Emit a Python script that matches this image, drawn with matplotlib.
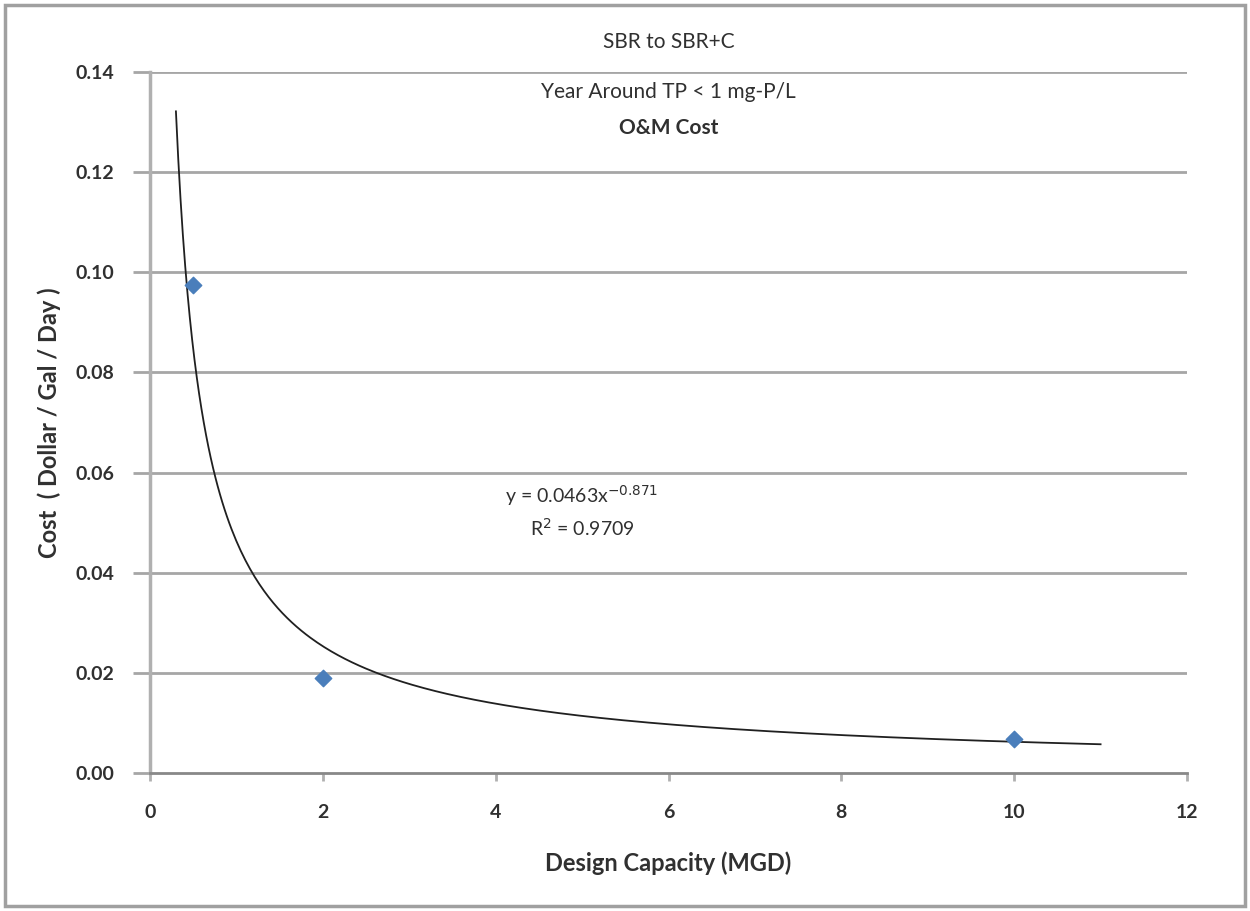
import numpy as np
import matplotlib.pyplot as plt
from matplotlib.patches import Rectangle

# data points
capacity = [0.5, 2, 10]
cost = [0.0975, 0.019, 0.0068]

# power trend line y = a * x^b
coef_a = 0.0463
coef_b = -0.871
trend_x = np.linspace(0.3, 11, 400)
trend_y = coef_a * trend_x ** coef_b

x_ticks = [0, 2, 4, 6, 8, 10, 12]
y_ticks = [0.00, 0.02, 0.04, 0.06, 0.08, 0.10, 0.12, 0.14]

plt.rcParams['font.family'] = ['Lato', 'DejaVu Sans']

fig = plt.figure(figsize=(12.5, 9.11), dpi=100)
ax = fig.add_axes([0.12, 0.1515, 0.8296, 0.7695])

for y in y_ticks[1:]:
    ax.axhline(y, color='#a6a6a6', lw=2, zorder=0)

ax.plot(trend_x, trend_y, color='#202020', lw=1.3, zorder=2)
ax.scatter(capacity, cost, s=70, marker='D', color='#4a7ebb', zorder=3)

ax.set_xlim(0, 12)
ax.set_ylim(0, 0.14)
ax.set_xticks(x_ticks)
ax.set_yticks(y_ticks)
ax.set_xticklabels([str(v) for v in x_ticks])
ax.set_yticklabels(['%.2f' % v for v in y_ticks])

for side in ['top', 'right']:
    ax.spines[side].set_visible(False)
ax.spines['left'].set_color('#b0b0b0')
ax.spines['left'].set_linewidth(2.5)
ax.spines['bottom'].set_color('#888888')
ax.spines['bottom'].set_linewidth(2)
ax.tick_params(axis='y', colors='#a6a6a6', width=2, length=12, labelcolor='#303030',
               labelsize=14, pad=14)
ax.tick_params(axis='x', colors='#b0b0b0', width=2, length=6, labelcolor='#303030',
               labelsize=14, pad=16)
for lab in ax.get_xticklabels() + ax.get_yticklabels():
    lab.set_fontweight('bold')

ax.set_xlabel('Design Capacity (MGD)', fontsize=17, fontweight='bold', color='#303030', labelpad=22)
ax.set_ylabel('Cost  ( Dollar / Gal / Day )', fontsize=17, fontweight='bold', color='#303030', labelpad=10)

fig.text(0.535, 0.954, 'SBR to SBR+C', ha='center', va='center', fontsize=15, color='#303030')
fig.text(0.535, 0.899, 'Year Around TP < 1 mg-P/L', ha='center', va='center', fontsize=15, color='#303030')
fig.text(0.535, 0.860, 'O&M Cost', ha='center', va='center', fontsize=15, fontweight='bold', color='#303030')

ax.text(5.0, 0.0555, r'y = 0.0463x$^{-0.871}$', ha='center', va='center', fontsize=14, color='#303030')
ax.text(5.0, 0.0490, r'R$^2$ = 0.9709', ha='center', va='center', fontsize=14, color='#303030')

fig.patches.append(Rectangle((0.004, 0.005), 0.992, 0.99, transform=fig.transFigure,
                             fill=False, edgecolor='#a0a0a0', lw=2.5))

fig.savefig('out.png', dpi=100)
